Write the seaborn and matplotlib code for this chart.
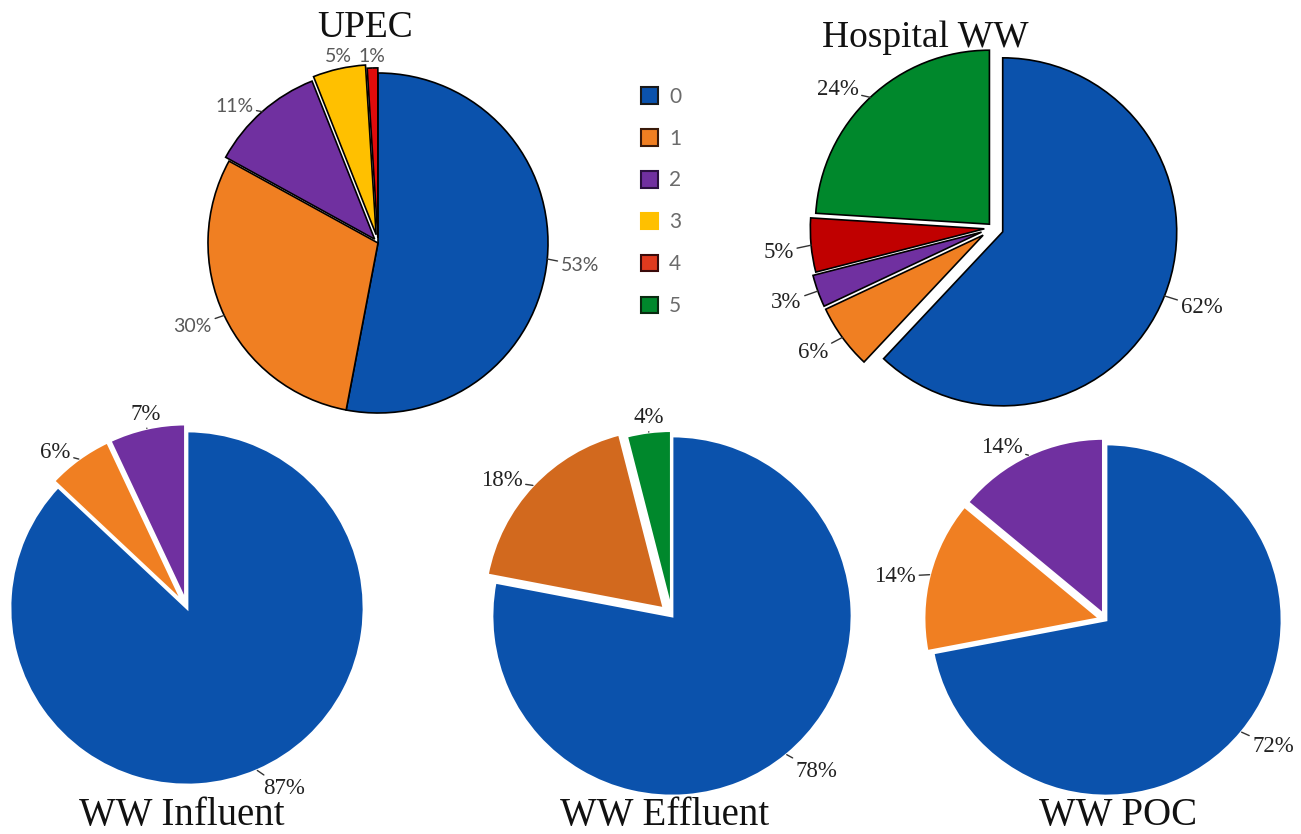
import matplotlib
matplotlib.use("Agg")
import matplotlib.pyplot as plt
import numpy as np
import seaborn as sns
from matplotlib.patches import Patch

sns.set_theme(style="white")
plt.rcParams['font.family'] = ['Liberation Serif', 'DejaVu Serif']

# ---- data -------------------------------------------------------------
legend_labels = ['0', '1', '2', '3', '4', '5']

upec_cats = ['0', '1', '2', '3', '4']
upec_vals = [53, 30, 11, 5, 1]

hosp_cats = ['0', '1', '2', '4', '5']
hosp_vals = [62, 6, 3, 5, 24]

infl_cats = ['0', '1', '2']
infl_vals = [87, 6, 7]

effl_cats = ['0', '1', '5']
effl_vals = [78, 18, 4]

poc_cats = ['0', '1', '2']
poc_vals = [72, 14, 14]

titles = ['UPEC', 'Hospital WW', 'WW Influent', 'WW Effluent', 'WW POC']

# ---- colours ----------------------------------------------------------
base = {'0': '#0B52AC', '1': '#F07F22', '2': '#7030A0',
        '3': '#FFC000', '4': '#C00000', '5': '#00882C'}
legend_colors = ['#0B52AC', '#F07F22', '#7030A0', '#FFC000', '#E03A1E', '#00882C']
legend_edges = ['#1a1a1a', '#3a1a0a', '#2a1040', '#FFC000', '#3a0a0a', '#0a2a10']

W, H = 1301, 834
fig = plt.figure(figsize=(W / 100, H / 100), dpi=100)
fig.patch.set_facecolor('white')

pies = [
    dict(cats=upec_cats, vals=upec_vals, c=(378, 243), r=170,
         explode=[0, 0, 0.03, 0.05, 0.03], edge='black', lw=1.2,
         over={'4': '#E00B0B'}, lab='sans', dist=1.08,
         title=(365, 28), tsize=27),
    dict(cats=hosp_cats, vals=hosp_vals, c=(993, 228), r=174,
         explode=[0.06, 0.07, 0.07, 0.05, 0.03], edge='black', lw=1.2,
         over={}, lab='serif', dist=1.1,
         title=(925, 38), tsize=27),
    dict(cats=infl_cats, vals=infl_vals, c=(187, 608), r=177,
         explode=[0, 0.04, 0.04], edge='white', lw=2,
         over={}, lab='serif', dist=1.08,
         title=(182, 815), tsize=28),
    dict(cats=effl_cats, vals=effl_vals, c=(672, 616), r=180,
         explode=[0, 0.06, 0.03], edge='white', lw=2,
         over={'1': '#D2691E'}, lab='serif', dist=1.08,
         title=(665, 815), tsize=28),
    dict(cats=poc_cats, vals=poc_vals, c=(1106, 620), r=176,
         explode=[0, 0.035, 0.035], edge='white', lw=2,
         over={}, lab='serif', dist=1.08,
         title=(1118, 815), tsize=28),
]

for spec, title in zip(pies, titles):
    cx, cy = spec['c']
    r = spec['r']
    half = 1.3 * r
    ax = fig.add_axes([(cx - half) / W, 1 - (cy + half) / H, 2 * half / W, 2 * half / H])
    colors = [spec['over'].get(k, base[k]) for k in spec['cats']]
    wedges, _ = ax.pie(spec['vals'], colors=colors, startangle=90, counterclock=False,
                       explode=spec['explode'], radius=1,
                       wedgeprops=dict(edgecolor=spec['edge'], linewidth=spec['lw']))
    ax.set_xlim(-1.3, 1.3)
    ax.set_ylim(-1.3, 1.3)
    ax.axis('off')

    if spec['lab'] == 'sans':
        tkw = dict(fontsize=14, color='#595959', family=['Lato', 'DejaVu Sans'])
    else:
        tkw = dict(fontsize=16.5, color='#222222', family=['Liberation Serif', 'DejaVu Serif'])

    d = spec['dist']
    for w, v in zip(wedges, spec['vals']):
        mid = np.deg2rad((w.theta1 + w.theta2) / 2)
        ox, oy = w.center
        c, s = np.cos(mid), np.sin(mid)
        px, py = ox + c, oy + s
        if abs(c) < 0.3:
            # labels near the top/bottom sit just beyond the rim
            ha = 'center'
            va = 'bottom' if s > 0 else 'top'
            tx, ty = ox + 1.02 * c, oy + 1.02 * s
        else:
            ha = 'left' if c > 0 else 'right'
            va = 'center'
            tx, ty = ox + d * c, oy + d * s - 0.03
        ax.annotate(f'{v}%', xy=(px, py), xytext=(tx, ty), ha=ha, va=va,
                    arrowprops=dict(arrowstyle='-', color='#333333', lw=1,
                                    shrinkA=0, shrinkB=0), **tkw)

    fig.text(spec['title'][0] / W, 1 - spec['title'][1] / H, title,
             ha='center', va='center', fontsize=spec['tsize'], color='#111111',
             family=['Liberation Serif', 'DejaVu Serif'])

handles = [Patch(facecolor=fc, edgecolor=ec, linewidth=1.5)
           for fc, ec in zip(legend_colors, legend_edges)]
leg = fig.legend(handles, legend_labels, loc='upper left',
                 bbox_to_anchor=(622 / W, 1 - 68 / H), frameon=False,
                 handlelength=0.85, handleheight=0.85, handletextpad=0.5,
                 labelspacing=1.05, prop=dict(family=['Lato', 'DejaVu Sans'], size=15))
for t in leg.get_texts():
    t.set_color('#6b6b6b')

fig.savefig('out.png', dpi=100, facecolor='white')
